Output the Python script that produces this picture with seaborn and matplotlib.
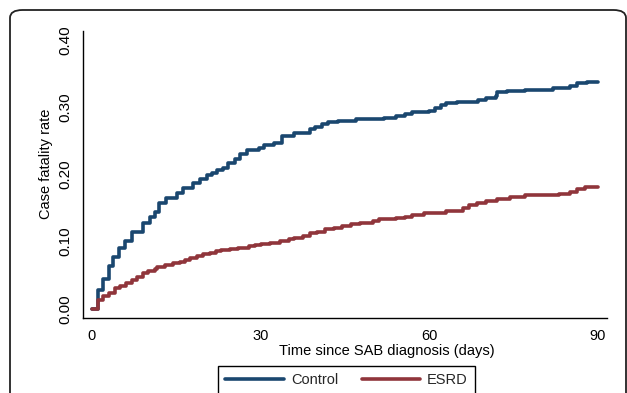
import numpy as np
import matplotlib
matplotlib.use('Agg')
import matplotlib.pyplot as plt
from matplotlib.patches import FancyBboxPatch
import pandas as pd
import seaborn as sns

# Kaplan-Meier type curves (step functions)
control_days = [0, 1, 2, 3, 3.7, 4.8, 5.9, 7.1, 9.1, 10.3, 11.2, 11.9, 13.2, 15.1, 16.2,
                18.0, 19.2, 20.5, 21.4, 22.2, 23.3, 24.2, 25.5, 26.3, 27.6, 29.7, 30.6,
                32.4, 33.8, 36.0, 38.8, 39.7, 40.9, 42.0, 43.8, 47.0, 52.0, 54.0, 55.7,
                57.0, 60.0, 61.0, 62.0, 63.0, 65.0, 68.7, 70.0, 71.9, 72.0, 73.8, 77.0,
                82.0, 85.0, 86.3, 88.0, 90.0]
control_rate = [0.0, 0.028, 0.045, 0.064, 0.077, 0.091, 0.101, 0.115, 0.128, 0.137, 0.144,
                0.158, 0.165, 0.172, 0.180, 0.187, 0.193, 0.199, 0.202, 0.206, 0.210,
                0.217, 0.223, 0.230, 0.236, 0.239, 0.244, 0.247, 0.257, 0.262, 0.268,
                0.271, 0.275, 0.278, 0.280, 0.282, 0.284, 0.287, 0.290, 0.292, 0.294,
                0.299, 0.303, 0.306, 0.308, 0.311, 0.313, 0.316, 0.322, 0.324, 0.326,
                0.329, 0.332, 0.335, 0.337, 0.337]

esrd_days = [0, 1, 2, 3, 4.1, 5.0, 6.0, 7.1, 8.0, 9.0, 10.0, 11.2, 11.6, 13.0, 14.4, 15.7,
             16.6, 17.4, 18.7, 19.7, 21.0, 22.0, 23.0, 24.5, 26.0, 28.0, 29.0, 30.0, 31.7,
             33.4, 35.0, 36.0, 37.5, 38.8, 40.0, 41.4, 43.0, 44.5, 46.0, 47.7, 50.0, 51.0,
             54.0, 55.7, 57.0, 59.0, 61.0, 63.0, 66.0, 67.0, 68.5, 70.0, 72.0, 74.4, 77.0,
             83.0, 85.0, 86.3, 87.7, 90.0]
esrd_rate = [0.0, 0.013, 0.019, 0.024, 0.031, 0.034, 0.038, 0.043, 0.048, 0.053, 0.057,
             0.060, 0.063, 0.066, 0.068, 0.070, 0.073, 0.076, 0.079, 0.081, 0.083, 0.086,
             0.088, 0.089, 0.091, 0.093, 0.095, 0.097, 0.098, 0.101, 0.104, 0.106, 0.109,
             0.113, 0.115, 0.119, 0.120, 0.123, 0.126, 0.128, 0.131, 0.134, 0.135, 0.137,
             0.140, 0.142, 0.143, 0.146, 0.150, 0.155, 0.158, 0.161, 0.164, 0.167, 0.170,
             0.171, 0.174, 0.178, 0.181, 0.181]

groups = ['Control', 'ESRD']
colors = ['#1a476f', '#90353b']
x_ticks = [0, 30, 60, 90]
y_ticks = [0.0, 0.1, 0.2, 0.3, 0.4]

# tabel lung pentru seaborn
df = pd.concat([
    pd.DataFrame({'day': control_days, 'rate': control_rate, 'group': groups[0]}),
    pd.DataFrame({'day': esrd_days, 'rate': esrd_rate, 'group': groups[1]}),
], ignore_index=True)

sns.set_theme(style='white')
plt.rcParams['font.family'] = ['Liberation Sans', 'DejaVu Sans']

fig = plt.figure(figsize=(6.27, 3.93), dpi=100)
ax = fig.add_axes([83 / 627, 1 - 318 / 393, 524 / 627, 287 / 393])

sns.lineplot(data=df, x='day', y='rate', hue='group', hue_order=groups,
             palette=colors, estimator=None, drawstyle='steps-post',
             linewidth=2.6, ax=ax)

ax.set_xlim(-1.6, 91.6)
ax.set_ylim(-0.0134, 0.413)
ax.set_xticks(x_ticks)
ax.set_yticks(y_ticks)
ax.set_yticklabels([f'{v:.2f}' for v in y_ticks], rotation=90, va='center')
ax.tick_params(axis='both', direction='out', length=5, width=1, color='black',
               labelsize=10.5, labelcolor='black')
ax.tick_params(axis='y', labelsize=11, pad=3)
ax.tick_params(axis='x', pad=3)

for side in ['top', 'right']:
    ax.spines[side].set_visible(False)
for side in ['left', 'bottom']:
    ax.spines[side].set_color('black')
    ax.spines[side].set_linewidth(1)

ax.set_xlabel('Time since SAB diagnosis (days)', fontsize=10.5, color='black')
ax.set_ylabel('Case fatality rate', fontsize=10.5, color='black')
ax.xaxis.set_label_coords(0.579, -0.09)
ax.yaxis.set_label_coords(-0.057, 0.537)

# legenda jos, sub axa
handles, labels = ax.get_legend_handles_labels()
ax.get_legend().remove()
fig.legend(handles, labels, ncol=2, loc='upper left',
           bbox_to_anchor=(218 / 627, 1 - 366 / 393), fontsize=10.5,
           frameon=True, fancybox=False, edgecolor='black', framealpha=1,
           handlelength=4, handletextpad=0.5, columnspacing=1.6,
           borderpad=0.5, borderaxespad=0)

# chenarul rotunjit din jurul graficului
frame = FancyBboxPatch((10 / 627, -0.2), 616 / 627, 1.2 - 10 / 393,
                       boxstyle='round,pad=0,rounding_size=0.02',
                       transform=fig.transFigure, fill=False,
                       edgecolor='#222222', linewidth=1.3)
fig.patches.append(frame)

fig.savefig('out.png', dpi=100)
